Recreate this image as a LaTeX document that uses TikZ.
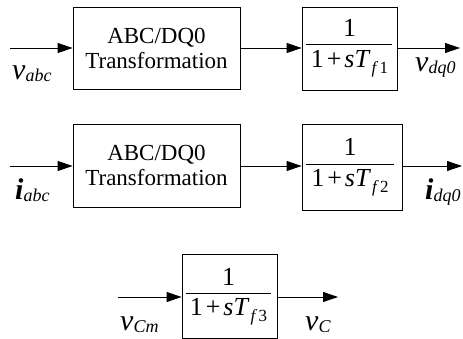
\documentclass[tikz,border=0pt]{standalone}
\usepackage{fontspec}
\setmainfont{Liberation Serif}
\usetikzlibrary{arrows.meta}
\newcommand{\vlab}[2]{\fontsize{30}{30}\selectfont\textit{#1}\raisebox{-2pt}{\fontsize{18}{18}\selectfont\textit{#2}}}
\newcommand{\ilab}[2]{\fontsize{30}{30}\selectfont\textbf{\textit{#1}}\raisebox{-2pt}{\fontsize{18}{18}\selectfont\textit{#2}}}
\newcommand{\denom}[1]{\fontsize{26}{26}\selectfont 1\hspace{3pt}+\hspace{3pt}\textit{sT}\raisebox{-6pt}{\fontsize{17}{17}\selectfont\hspace{1pt}\textit{f}\hspace{1.5pt}#1}}
\tikzset{
  x=1pt, y=-1pt,
  blk/.style={draw, line width=0.8pt, inner sep=0pt},
  txt/.style={font=\fontsize{23}{25}\selectfont, align=center, inner sep=0pt},
  num/.style={font=\fontsize{26}{26}\selectfont, inner sep=0pt},
  lab/.style={anchor=base west, inner sep=0pt},
  sig/.style={line width=0.8pt, -{Triangle[length=15pt,width=10pt]}},
  fline/.style={line width=0.8pt}
}
\begin{document}
\begin{tikzpicture}
\useasboundingbox (0,0) rectangle (463,339);
% row 1
\node[blk, minimum width=167pt, minimum height=82pt] (b1) at (156.5,48) {};
\node[txt] (t1) at (156.5,48) {ABC/DQ0\\Transformation};
\node[blk, minimum width=95pt, minimum height=83pt] (b2) at (349.5,48.5) {};
\node[num] (n2) at (349.5,28) {1};
\node[inner sep=0pt] (d2) at (349.5,64) {\denom{1}};
\coordinate (l2a) at (306,44); \coordinate (l2b) at (392,44);
\draw[fline] (l2a) -- (l2b);
\coordinate (in1) at (10,48);
\coordinate (out1) at (460,48);
\draw[sig] (in1) -- (in1 -| b1.west);
\draw[sig] (b1.east |- in1) -- (b2.west |- in1);
\draw[sig] (b2.east |- in1) -- (out1);
\node[lab] (va) at (12,80) {\vlab{v}{abc}};
\node[lab] (vd) at (415,72) {\vlab{v}{dq0}};
% row 2
\node[blk, minimum width=167pt, minimum height=83pt] (b3) at (156.5,165.5) {};
\node[txt] (t3) at (156.5,165.5) {ABC/DQ0\\Transformation};
\node[blk, minimum width=100pt, minimum height=86pt] (b4) at (352,167) {};
\node[num] (n4) at (350,147) {1};
\node[inner sep=0pt] (d4) at (350,183) {\denom{2}};
\coordinate (l4a) at (306,164); \coordinate (l4b) at (394,164);
\draw[fline] (l4a) -- (l4b);
\coordinate (in2) at (10,166);
\coordinate (out2) at (462,166);
\draw[sig] (in2) -- (in2 -| b3.west);
\draw[sig] (b3.east |- in2) -- (b4.west |- in2);
\draw[sig] (b4.east |- in2) -- (out2);
\node[lab] (ia) at (15,200) {\ilab{i}{abc}};
\node[lab] (id) at (425,200) {\ilab{i}{dq0}};
% row 3
\node[blk, minimum width=95pt, minimum height=84pt] (b5) at (229.5,296) {};
\node[num] (n5) at (228.5,277) {1};
\node[inner sep=0pt] (d5) at (228.5,312) {\denom{3}};
\coordinate (l5a) at (186,293); \coordinate (l5b) at (271,293);
\draw[fline] (l5a) -- (l5b);
\coordinate (in3) at (118,297);
\coordinate (out3) at (338,297);
\draw[sig] (in3) -- (in3 -| b5.west);
\draw[sig] (b5.east |- in3) -- (out3);
\node[lab] (vcm) at (120,330) {\vlab{v}{Cm}};
\node[lab] (vc) at (305,330) {\vlab{v}{C}};
\end{tikzpicture}
\end{document}
